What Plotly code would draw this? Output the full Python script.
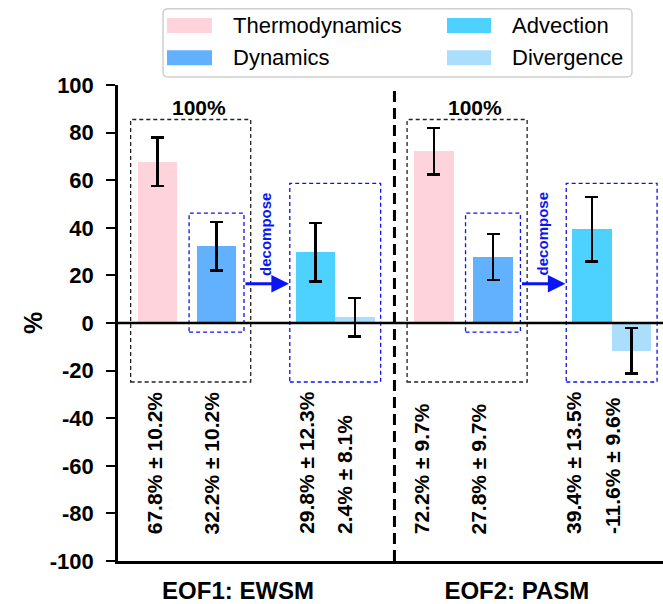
import plotly.graph_objects as go

# ---------------- data ----------------
groups = ["EOF1: EWSM", "EOF2: PASM"]
series = ["Thermodynamics", "Dynamics", "Advection", "Divergence"]
thermo_vals = [67.8, 72.2]
thermo_errs = [10.2, 9.7]
dyn_vals = [32.2, 27.8]
dyn_errs = [10.2, 9.7]
adv_vals = [29.8, 39.4]
adv_errs = [12.3, 13.5]
div_vals = [2.4, -11.6]
div_errs = [8.1, 9.6]
y_ticks = [-100, -80, -60, -40, -20, 0, 20, 40, 60, 80, 100]

# ---------------- styles / layout ----------------
colors = {"Thermodynamics": "#FFD3DB", "Dynamics": "#62B1FF",
          "Advection": "#4DD2FF", "Divergence": "#ABDDFC"}
FONT = "Liberation Sans, Arial, sans-serif"
W, H = 663, 604
L, R, T, B = 118, 0, 85, 39
PW, PH = W - L - R, H - T - B
GROUP_STEP = 7.0
slot = {"Thermodynamics": 0.0, "Dynamics": 1.5, "Advection": 4.0, "Divergence": 5.0}
vals = {"Thermodynamics": thermo_vals, "Dynamics": dyn_vals,
        "Advection": adv_vals, "Divergence": div_vals}
errs = {"Thermodynamics": thermo_errs, "Dynamics": dyn_errs,
        "Advection": adv_errs, "Divergence": div_errs}


def px(x):
    return (x - L) / PW


def py(y):
    return (H - B - y) / PH


fig = go.Figure()
for s in series:
    xs = [slot[s] + g * GROUP_STEP for g in range(len(groups))]
    fig.add_trace(go.Bar(
        x=xs, y=vals[s], width=1.0, name=s, showlegend=False,
        marker=dict(color=colors[s], line=dict(width=0)),
        error_y=dict(type="data", array=errs[s], visible=True,
                     color="black", thickness=2.5, width=6.5),
    ))

shapes = []
annotations = []
for g in range(len(groups)):
    off = g * GROUP_STEP
    # black dashed box (total 100%)
    shapes.append(dict(type="rect", xref="x", yref="y", x0=off - 0.68, x1=off + 2.36,
                       y0=-24.8, y1=85.5, line=dict(color="#222222", width=1.3, dash="4px,3px"),
                       layer="above"))
    # blue dashed box around dynamics
    shapes.append(dict(type="rect", xref="x", yref="y", x0=off + 0.8, x1=off + 2.19,
                       y0=-3.8, y1=46.2, line=dict(color="#1010EE", width=1.3, dash="4px,3px"),
                       layer="above"))
    # blue dashed box around advection + divergence
    shapes.append(dict(type="rect", xref="x", yref="y", x0=off + 3.35, x1=off + 5.65,
                       y0=-24.8, y1=58.7, line=dict(color="#1010EE", width=1.3, dash="4px,3px"),
                       layer="above"))
    annotations.append(dict(x=off + 1.05, y=90.6, xref="x", yref="y", text="<b>100%</b>",
                            showarrow=False, font=dict(family=FONT, size=21, color="black")))
    # arrow
    annotations.append(dict(x=off + 3.33, y=16.5, ax=off + 2.19, ay=16.5, xref="x", yref="y",
                            axref="x", ayref="y", text="", showarrow=True, arrowhead=2,
                            arrowsize=1.1, arrowwidth=3.2, arrowcolor="#0A14F5"))
    annotations.append(dict(x=off + 2.74, y=37.3, xref="x", yref="y", text="<b>decompose</b>",
                            textangle=-90, showarrow=False,
                            font=dict(family=FONT, size=15, color="#0A14F5")))
    # value labels
    for s in series:
        bx = slot[s] + off
        lx = bx * 0.966 - 0.076
        annotations.append(dict(x=lx, y=-89.6, xref="x", yref="y",
                                text="<b>%.1f%% ± %.1f%%</b>" % (vals[s][g], errs[s][g]),
                                textangle=-90, showarrow=False, yanchor="bottom",
                                font=dict(family=FONT, size=21, color="black")))

# zero line above bars
shapes.append(dict(type="line", xref="paper", yref="y", x0=0, x1=1, y0=0, y1=0,
                   line=dict(color="black", width=2.5), layer="above"))
# dashed divider between groups
shapes.append(dict(type="line", xref="x", yref="y", x0=GROUP_STEP - 1.0, x1=GROUP_STEP - 1.0,
                   y0=-100, y1=100, line=dict(color="black", width=3, dash="11px,6px"),
                   layer="above"))

# y axis title
annotations.append(dict(x=px(33), y=py(325), xref="paper", yref="paper", text="<b>%</b>",
                        textangle=-90, showarrow=False, xanchor="center", yanchor="middle",
                        font=dict(family=FONT, size=25, color="black")))

# manual legend
lx0, lx1, ly0, ly1, rr = 163, 632, 8, 77, 5
path = ("M {a},{b} L {c},{b} Q {d},{b} {d},{e} L {d},{f} Q {d},{g} {c},{g} "
        "L {a},{g} Q {h},{g} {h},{f} L {h},{e} Q {h},{b} {a},{b} Z").format(
    a=px(lx0 + rr), b=py(ly0), c=px(lx1 - rr), d=px(lx1), e=py(ly0 + rr),
    f=py(ly1 - rr), g=py(ly1), h=px(lx0))
shapes.append(dict(type="path", xref="paper", yref="paper", path=path,
                   fillcolor="rgba(255,255,255,0.9)", line=dict(color="#CFCFCF", width=1.5),
                   layer="above"))
legend_cols = [(167, 212, 231), (447, 491, 510)]
legend_rows = [25, 57.5]
legend_order = ["Thermodynamics", "Dynamics", "Advection", "Divergence"]
for i, s in enumerate(legend_order):
    c = legend_cols[i // 2]
    r = legend_rows[i % 2]
    shapes.append(dict(type="rect", xref="paper", yref="paper", x0=px(c[0]), x1=px(c[1]),
                       y0=py(r + 7.5), y1=py(r - 7.5), fillcolor=colors[s],
                       line=dict(width=0), layer="above"))
    annotations.append(dict(x=px(c[2]), y=py(r), xref="paper", yref="paper", text=s,
                            showarrow=False, xanchor="left", yanchor="middle",
                            font=dict(family=FONT, size=22, color="black")))

fig.update_layout(
    width=W, height=H, margin=dict(l=L, r=R, t=T, b=B, pad=0),
    plot_bgcolor="white", paper_bgcolor="white", bargap=0,
    shapes=shapes, annotations=annotations, showlegend=False,
    font=dict(family=FONT, color="black"),
    xaxis=dict(range=[-1.0, 12.8], showgrid=False, zeroline=False, showline=True,
               linecolor="black", linewidth=2.5, ticks="",
               tickvals=[2.04, 9.1], ticktext=["<b>%s</b>" % g for g in groups],
               tickfont=dict(family=FONT, size=24, color="black"), ticklabelstandoff=6),
    yaxis=dict(range=[-100, 100], showgrid=False, zeroline=False, showline=True,
               linecolor="black", linewidth=2.5, ticks="outside", ticklen=9, tickwidth=2,
               tickcolor="black", tickvals=y_ticks,
               ticktext=["<b>%d</b>" % v for v in y_ticks],
               tickfont=dict(family=FONT, size=22, color="black"), ticklabelstandoff=8),
)

fig.write_html("out.html")
